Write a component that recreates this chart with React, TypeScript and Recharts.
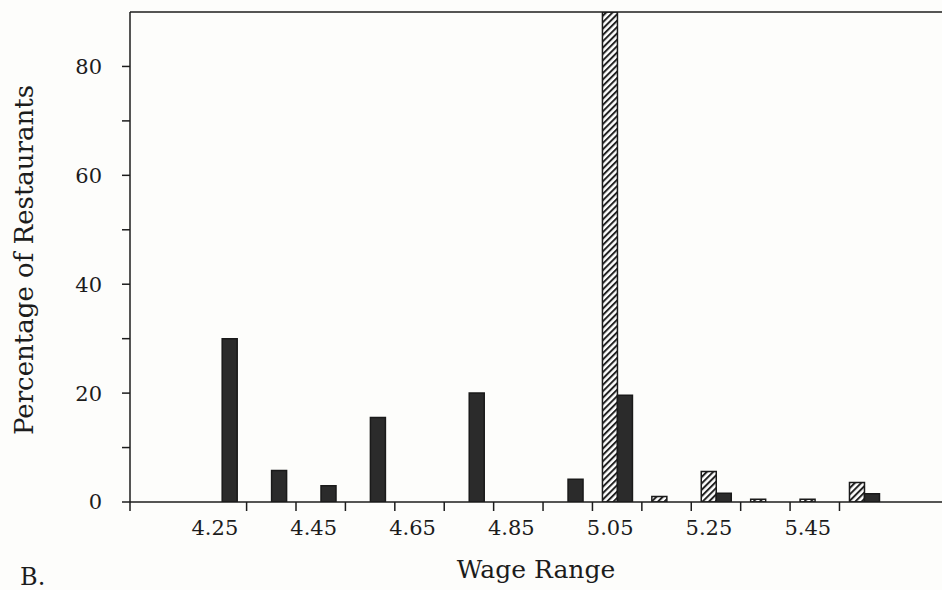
import React from 'react';
import { BarChart, Bar, XAxis, YAxis, ReferenceLine } from 'recharts';

// wage bins (centre of each 10-cent range) and share of restaurants in each
const wageBins = [4.25, 4.35, 4.45, 4.55, 4.65, 4.75, 4.85, 4.95, 5.05, 5.15, 5.25, 5.35, 5.45, 5.55];
const hatchedPct = [0, 0, 0, 0, 0, 0, 0, 0, 90, 1, 5.6, 0.5, 0.5, 3.6];
const solidPct = [30, 5.8, 3, 15.5, 0, 20, 0, 4.2, 19.6, 0, 1.6, 0, 0, 1.5];

const wageLabels = [4.25, 4.45, 4.65, 4.85, 5.05, 5.25, 5.45];
const binEdges = [4.3, 4.4, 4.5, 4.6, 4.7, 4.8, 4.9, 5.0, 5.1, 5.2, 5.3, 5.4, 5.5];
const pctTicks = [0, 10, 20, 30, 40, 50, 60, 70, 80];

const X_DOMAIN: [number, number] = [4.064, 5.7075];

const data = wageBins.map((wage, i) => ({
  wage,
  after: hatchedPct[i],
  before: solidPct[i],
}));

const allTicks = [X_DOMAIN[0], ...wageLabels, ...binEdges].sort((a, b) => a - b);

const INK = '#1c1c1c';
const FONT = '"DejaVu Serif", serif';

const isLabel = (v: number) => wageLabels.some((l) => Math.abs(l - v) < 1e-6);

const WageTick = (props: any) => {
  const { x, y, payload } = props;
  if (isLabel(payload.value)) {
    return (
      <text x={x - 7} y={y + 33} textAnchor="middle" fill={INK} fontSize={21} fontFamily={FONT}>
        {payload.value.toFixed(2)}
      </text>
    );
  }
  return <line x1={x} x2={x} y1={y} y2={y + 9} stroke={INK} strokeWidth={1.5} />;
};

const XTitle = (props: any) => {
  const { viewBox } = props;
  const cx = viewBox.x + viewBox.width / 2;
  return (
    <g fill={INK} fontFamily={FONT}>
      <text x={cx} y={578} textAnchor="middle" fontSize={25}>Wage Range</text>
      <text x={20} y={585} fontSize={24}>B.</text>
    </g>
  );
};

const YTitle = (props: any) => {
  const { viewBox } = props;
  const cy = viewBox.y + viewBox.height / 2 + 3;
  return (
    <text
      transform={`translate(33, ${cy}) rotate(-90)`}
      textAnchor="middle"
      fill={INK}
      fontSize={26}
      fontFamily={FONT}
    >
      Percentage of Restaurants
    </text>
  );
};

export default function App() {
  return (
    <div
      style={{
        position: 'absolute',
        left: 0,
        top: 0,
        width: 942,
        height: 590,
        overflow: 'hidden',
        background: '#fdfdfb',
      }}
    >
      <BarChart width={942} height={590} data={data} margin={{ top: 12, right: 0, left: 0, bottom: 0 }} barGap={0}>
        <defs>
          <pattern id="hatch" patternUnits="userSpaceOnUse" width={4.5} height={4.5} patternTransform="rotate(45)">
            <rect width={4.5} height={4.5} fill="#fff" />
            <line x1={1} y1={0} x2={1} y2={4.5} stroke="#222" strokeWidth={2} />
          </pattern>
        </defs>
        <XAxis
          type="number"
          dataKey="wage"
          domain={X_DOMAIN}
          allowDataOverflow
          ticks={allTicks}
          interval={0}
          tickLine={false}
          tickSize={0}
          tickMargin={0}
          tick={<WageTick />}
          height={88}
          axisLine={{ stroke: INK, strokeWidth: 1.5 }}
          label={<XTitle />}
        />
        <YAxis
          type="number"
          domain={[0, 90]}
          allowDataOverflow
          ticks={pctTicks}
          interval={0}
          width={130}
          tickSize={8}
          tickMargin={20}
          tickFormatter={(v: number) => (v % 20 === 0 ? String(v) : '')}
          tick={{ fill: INK, fontSize: 21, fontFamily: FONT }}
          tickLine={{ stroke: INK, strokeWidth: 1.5 }}
          axisLine={{ stroke: INK, strokeWidth: 1.5 }}
          label={<YTitle />}
        />
        <ReferenceLine y={90} stroke={INK} strokeWidth={1.5} />
        <Bar dataKey="after" barSize={15} fill="url(#hatch)" stroke="#1a1a1a" strokeWidth={1.5} isAnimationActive={false} />
        <Bar dataKey="before" barSize={15} fill="#2b2b2b" stroke="#1a1a1a" strokeWidth={1.5} isAnimationActive={false} />
      </BarChart>
    </div>
  );
}
